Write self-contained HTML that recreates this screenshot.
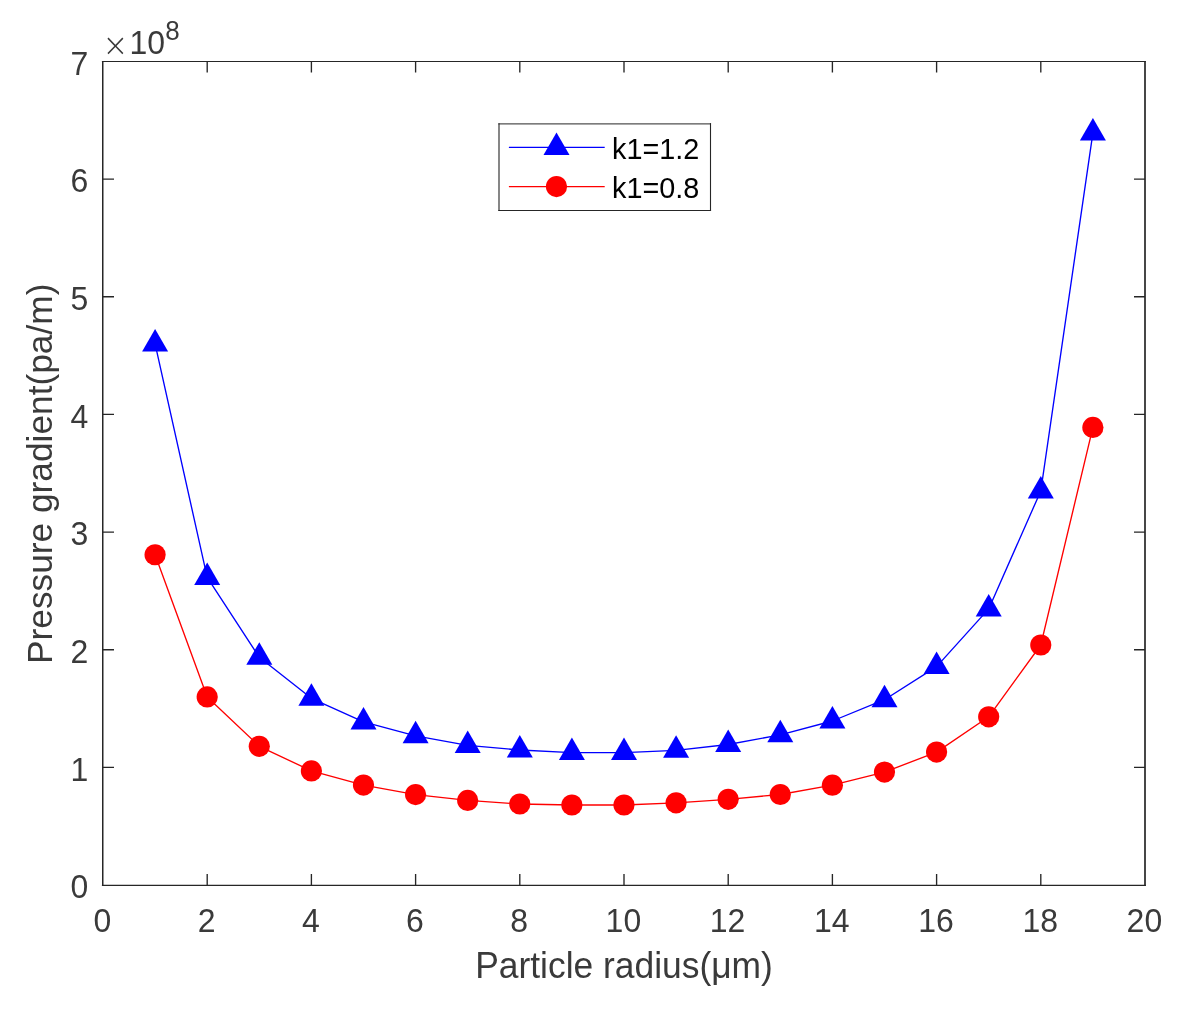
<!DOCTYPE html>
<html><head><meta charset="utf-8"><title>Pressure gradient vs particle radius</title>
<style>
html,body{margin:0;padding:0;background:#fff;overflow:hidden;}
svg{display:block;}
text{font-family:"Liberation Sans",Arial,Helvetica,sans-serif;}
</style></head>
<body>
<svg width="1181" height="1010" viewBox="0 0 1181 1010">
<rect width="1181" height="1010" fill="#fff"/>
<path d="M101.9,61.5H1145.85" stroke="#262626" stroke-width="1.1" fill="none"/>
<path d="M101.9,885.375H1145.85" stroke="#262626" stroke-width="1.25" fill="none"/>
<path d="M102.75,60.95V886" stroke="#262626" stroke-width="1.5" fill="none"/>
<path d="M1145,60.95V886" stroke="#262626" stroke-width="1.7" fill="none"/>
<path d="M207.20,885.0V874.0M207.20,61.5V72.5M311.40,885.0V874.0M311.40,61.5V72.5M415.60,885.0V874.0M415.60,61.5V72.5M519.80,885.0V874.0M519.80,61.5V72.5M624.00,885.0V874.0M624.00,61.5V72.5M728.20,885.0V874.0M728.20,61.5V72.5M832.40,885.0V874.0M832.40,61.5V72.5M936.60,885.0V874.0M936.60,61.5V72.5M1040.80,885.0V874.0M1040.80,61.5V72.5M103.0,767.36H114.0M1145.0,767.36H1134.0M103.0,649.71H114.0M1145.0,649.71H1134.0M103.0,532.07H114.0M1145.0,532.07H1134.0M103.0,414.43H114.0M1145.0,414.43H1134.0M103.0,296.79H114.0M1145.0,296.79H1134.0M103.0,179.14H114.0M1145.0,179.14H1134.0" stroke="#262626" stroke-width="1.35" fill="none"/>
<text transform="translate(102.40,931.60) scale(1,1.045)" font-size="32" text-anchor="middle" fill="#3a3a3a">0</text>
<text transform="translate(206.60,931.60) scale(1,1.045)" font-size="32" text-anchor="middle" fill="#3a3a3a">2</text>
<text transform="translate(310.80,931.60) scale(1,1.045)" font-size="32" text-anchor="middle" fill="#3a3a3a">4</text>
<text transform="translate(415.00,931.60) scale(1,1.045)" font-size="32" text-anchor="middle" fill="#3a3a3a">6</text>
<text transform="translate(519.20,931.60) scale(1,1.045)" font-size="32" text-anchor="middle" fill="#3a3a3a">8</text>
<text transform="translate(623.40,931.60) scale(1,1.045)" font-size="32" text-anchor="middle" fill="#3a3a3a">10</text>
<text transform="translate(727.60,931.60) scale(1,1.045)" font-size="32" text-anchor="middle" fill="#3a3a3a">12</text>
<text transform="translate(831.80,931.60) scale(1,1.045)" font-size="32" text-anchor="middle" fill="#3a3a3a">14</text>
<text transform="translate(936.00,931.60) scale(1,1.045)" font-size="32" text-anchor="middle" fill="#3a3a3a">16</text>
<text transform="translate(1040.20,931.60) scale(1,1.045)" font-size="32" text-anchor="middle" fill="#3a3a3a">18</text>
<text transform="translate(1144.40,931.60) scale(1,1.045)" font-size="32" text-anchor="middle" fill="#3a3a3a">20</text>
<text transform="translate(88.40,898.20) scale(1,1.045)" font-size="32" text-anchor="end" fill="#3a3a3a">0</text>
<text transform="translate(88.40,780.56) scale(1,1.045)" font-size="32" text-anchor="end" fill="#3a3a3a">1</text>
<text transform="translate(88.40,662.91) scale(1,1.045)" font-size="32" text-anchor="end" fill="#3a3a3a">2</text>
<text transform="translate(88.40,545.27) scale(1,1.045)" font-size="32" text-anchor="end" fill="#3a3a3a">3</text>
<text transform="translate(88.40,427.63) scale(1,1.045)" font-size="32" text-anchor="end" fill="#3a3a3a">4</text>
<text transform="translate(88.40,309.99) scale(1,1.045)" font-size="32" text-anchor="end" fill="#3a3a3a">5</text>
<text transform="translate(88.40,192.34) scale(1,1.045)" font-size="32" text-anchor="end" fill="#3a3a3a">6</text>
<text transform="translate(88.40,74.70) scale(1,1.045)" font-size="32" text-anchor="end" fill="#3a3a3a">7</text>
<text transform="translate(102.40,55.90) scale(1,1.04)" font-size="30.8" fill="#3a3a3a" style="font-family:'DejaVu Sans';font-weight:200">×</text>
<text transform="translate(129.50,54.20) scale(1,1.045)" font-size="32" fill="#3a3a3a">10</text>
<text transform="translate(165.20,40.00) scale(1,1.07)" font-size="26" fill="#3a3a3a">8</text>
<text transform="translate(624.00,977.90) scale(1,1.02)" font-size="35.4" text-anchor="middle" fill="#3a3a3a">Particle radius(μm)</text>
<text transform="translate(51.60,473.80) rotate(-90) scale(1,1.02)" font-size="35.3" text-anchor="middle" fill="#3a3a3a">Pressure gradient(pa/m)</text>
<polyline points="155.10,343.90 207.20,577.40 259.30,657.20 311.40,698.30 363.50,721.90 415.60,735.80 467.70,745.40 519.80,750.00 571.90,752.60 624.00,752.60 676.10,750.30 728.20,744.50 780.30,734.80 832.40,721.00 884.50,699.70 936.60,666.60 988.70,608.90 1040.80,490.90 1092.90,132.90" fill="none" stroke="#0000ff" stroke-width="1.35" stroke-linejoin="round"/>
<polygon points="155.10,328.90 168.10,351.40 142.10,351.40" fill="#0000ff"/><polygon points="207.20,562.40 220.20,584.90 194.20,584.90" fill="#0000ff"/><polygon points="259.30,642.20 272.30,664.70 246.30,664.70" fill="#0000ff"/><polygon points="311.40,683.30 324.40,705.80 298.40,705.80" fill="#0000ff"/><polygon points="363.50,706.90 376.50,729.40 350.50,729.40" fill="#0000ff"/><polygon points="415.60,720.80 428.60,743.30 402.60,743.30" fill="#0000ff"/><polygon points="467.70,730.40 480.70,752.90 454.70,752.90" fill="#0000ff"/><polygon points="519.80,735.00 532.80,757.50 506.80,757.50" fill="#0000ff"/><polygon points="571.90,737.60 584.90,760.10 558.90,760.10" fill="#0000ff"/><polygon points="624.00,737.60 637.00,760.10 611.00,760.10" fill="#0000ff"/><polygon points="676.10,735.30 689.10,757.80 663.10,757.80" fill="#0000ff"/><polygon points="728.20,729.50 741.20,752.00 715.20,752.00" fill="#0000ff"/><polygon points="780.30,719.80 793.30,742.30 767.30,742.30" fill="#0000ff"/><polygon points="832.40,706.00 845.40,728.50 819.40,728.50" fill="#0000ff"/><polygon points="884.50,684.70 897.50,707.20 871.50,707.20" fill="#0000ff"/><polygon points="936.60,651.60 949.60,674.10 923.60,674.10" fill="#0000ff"/><polygon points="988.70,593.90 1001.70,616.40 975.70,616.40" fill="#0000ff"/><polygon points="1040.80,475.90 1053.80,498.40 1027.80,498.40" fill="#0000ff"/><polygon points="1092.90,117.90 1105.90,140.40 1079.90,140.40" fill="#0000ff"/>
<polyline points="155.10,554.75 207.20,696.90 259.30,746.30 311.40,770.90 363.50,785.10 415.60,794.60 467.70,800.40 519.80,804.00 571.90,805.00 624.00,805.00 676.10,802.80 728.20,799.30 780.30,794.50 832.40,785.20 884.50,772.10 936.60,752.10 988.70,716.80 1040.80,645.00 1092.90,427.40" fill="none" stroke="#ff0000" stroke-width="1.35" stroke-linejoin="round"/>
<circle cx="155.10" cy="554.75" r="10.6" fill="#ff0000"/><circle cx="207.20" cy="696.90" r="10.6" fill="#ff0000"/><circle cx="259.30" cy="746.30" r="10.6" fill="#ff0000"/><circle cx="311.40" cy="770.90" r="10.6" fill="#ff0000"/><circle cx="363.50" cy="785.10" r="10.6" fill="#ff0000"/><circle cx="415.60" cy="794.60" r="10.6" fill="#ff0000"/><circle cx="467.70" cy="800.40" r="10.6" fill="#ff0000"/><circle cx="519.80" cy="804.00" r="10.6" fill="#ff0000"/><circle cx="571.90" cy="805.00" r="10.6" fill="#ff0000"/><circle cx="624.00" cy="805.00" r="10.6" fill="#ff0000"/><circle cx="676.10" cy="802.80" r="10.6" fill="#ff0000"/><circle cx="728.20" cy="799.30" r="10.6" fill="#ff0000"/><circle cx="780.30" cy="794.50" r="10.6" fill="#ff0000"/><circle cx="832.40" cy="785.20" r="10.6" fill="#ff0000"/><circle cx="884.50" cy="772.10" r="10.6" fill="#ff0000"/><circle cx="936.60" cy="752.10" r="10.6" fill="#ff0000"/><circle cx="988.70" cy="716.80" r="10.6" fill="#ff0000"/><circle cx="1040.80" cy="645.00" r="10.6" fill="#ff0000"/><circle cx="1092.90" cy="427.40" r="10.6" fill="#ff0000"/>
<rect x="499" y="123.8" width="211.5" height="86.7" fill="#ffffff"/>
<path d="M498.35,123.8H711.05" stroke="#262626" stroke-width="1.3" fill="none" opacity="0.8"/>
<path d="M498.35,210.5H711.05" stroke="#262626" stroke-width="1.0" fill="none"/>
<path d="M499,123.15V211" stroke="#262626" stroke-width="1.3" fill="none" opacity="0.85"/>
<path d="M710.5,123.15V211" stroke="#262626" stroke-width="1.1" fill="none"/>
<path d="M508.9,147.4H604.7" stroke="#0000ff" stroke-width="1.15"/><polygon points="556.50,132.40 569.50,154.90 543.50,154.90" fill="#0000ff"/>
<path d="M508.9,186.6H604.7" stroke="#ff0000" stroke-width="1.15"/><circle cx="556.50" cy="186.60" r="10.6" fill="#ff0000"/>
<text transform="translate(612.00,159.10)" font-size="28.8" fill="#000">k1=1.2</text>
<text transform="translate(612.00,198.30)" font-size="28.8" fill="#000">k1=0.8</text>
</svg>
</body></html>
